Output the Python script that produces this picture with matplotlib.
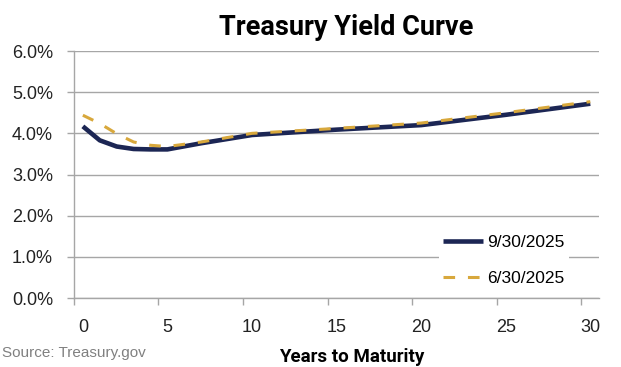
# treasury_curve.py
# Treasury yield curve, 9/30/2025 vs 6/30/2025 -> out.png

import numpy as np
import matplotlib
matplotlib.use("Agg")
import matplotlib.pyplot as plt
from matplotlib.ticker import FixedLocator, PercentFormatter

# values (years, % yield)
years = [0, 1, 2, 3, 4, 5, 7, 10, 15, 20, 25, 30]
yld_sep = [4.17, 3.83, 3.68, 3.62, 3.61, 3.61, 3.76, 3.96, 4.09, 4.20, 4.45, 4.72]
yld_jun = [4.44, 4.24, 3.99, 3.79, 3.71, 3.68, 3.79, 4.00, 4.12, 4.25, 4.50, 4.77]
label_sep = "9/30/2025"
label_jun = "6/30/2025"
x_ticks = [0, 5, 10, 15, 20, 25, 30]
y_ticks = [0, 1, 2, 3, 4, 5, 6]

navy = "#1c2654"
gold = "#d8a83c"
grey = "#a6a6a6"

fig = plt.figure(figsize=(6.21, 3.67), dpi=100)
ax = fig.add_axes([0.119, 0.188, 0.846, 0.673])

ax.plot(years, yld_sep, color=navy, lw=3.3, solid_capstyle="butt",
        solid_joinstyle="round", label=label_sep, zorder=3)
ax.plot(years, yld_jun, color=gold, lw=2.2, dashes=(3.8, 4.2),
        label=label_jun, zorder=4)

ax.set_xlim(-0.53, 30.53)
ax.set_ylim(0, 6)

# Excel-style: labels sit at the values, tick marks a bit to the left
ax.set_xticks(x_ticks)
ax.xaxis.set_minor_locator(FixedLocator([t - 0.53 for t in x_ticks]))
ax.tick_params(axis="x", which="major", length=0, pad=15, labelsize=13,
               labelcolor="#222222")
ax.tick_params(axis="x", which="minor", length=5, width=1, color=grey)

ax.set_yticks(y_ticks)
ax.yaxis.set_major_formatter(PercentFormatter(decimals=1))
ax.tick_params(axis="y", length=5, width=1, color=grey, pad=10,
               labelsize=13, labelcolor="#222222")
for lbl in ax.get_xticklabels() + ax.get_yticklabels():
    lbl.set_family("Liberation Sans")

ax.grid(axis="y", color=grey, lw=1.0)
ax.set_axisbelow(True)
for s in ["top", "right"]:
    ax.spines[s].set_visible(False)
for s in ["left", "bottom"]:
    ax.spines[s].set_color(grey)
    ax.spines[s].set_linewidth(1.0)

leg = ax.legend(loc="lower right", bbox_to_anchor=(0.959, -0.004), frameon=True,
                fancybox=False, facecolor="white", edgecolor="none",
                framealpha=1, handlelength=2.3, handletextpad=0.25,
                labelspacing=1.2, borderpad=0.25,
                prop={"family": "Liberation Sans", "size": 12.5})
leg.set_zorder(5)

fig.text(0.557, 0.925, "Treasury Yield Curve", ha="center", va="center",
         fontsize=19.5, fontweight="bold", family="Roboto")
fig.text(0.567, 0.027, "Years to Maturity", ha="center", va="center",
         fontsize=13.5, fontweight="bold", family="Roboto")
fig.text(0.004, 0.038, "Source: Treasury.gov", ha="left", va="center",
         fontsize=11, color="#808080", family="Liberation Sans")

fig.savefig("out.png", dpi=100)
print("Saved out.png")
